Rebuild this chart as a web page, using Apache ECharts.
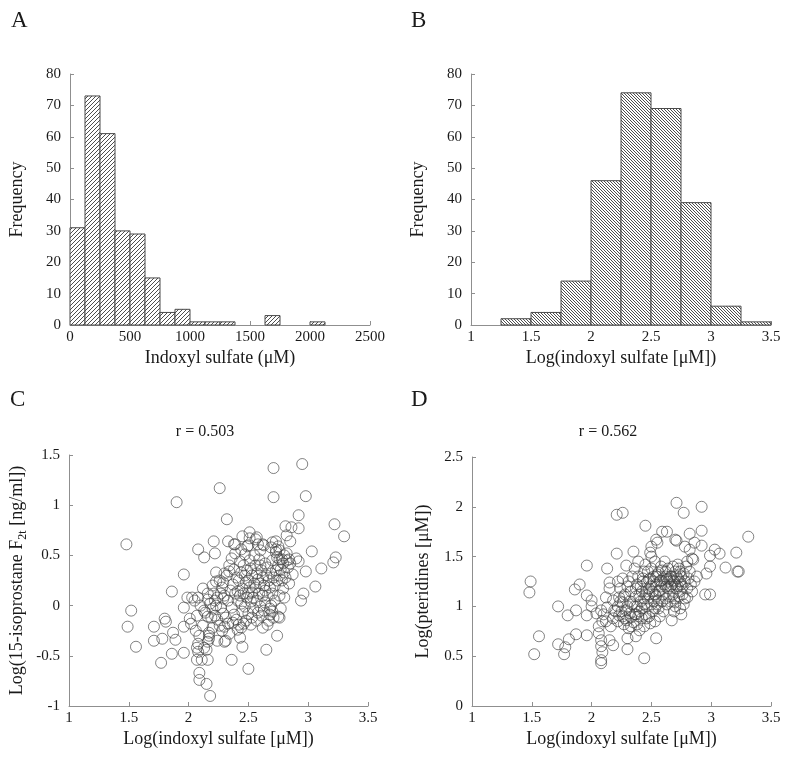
<!DOCTYPE html>
<html>
<head>
<meta charset="utf-8">
<script src="https://cdn.jsdelivr.net/npm/echarts@6/dist/echarts.min.js"></script>
<style>html,body{margin:0;padding:0;background:#fff}#main{width:787px;height:762px}</style>
</head>
<body>
<div id="main"></div>
<script>
// ---- Data ----
// Panel A: histogram of indoxyl sulfate (µM), bin width 125
var histABinStarts = [0,125,250,375,500,625,750,875,1000,1125,1250,1375,1500,1625,1750,1875,2000];
var histACounts    = [31,73,61,30,29,15,4,5,1,1,1,0,0,3,0,0,1];
var histABinWidth = 125;
// Panel B: histogram of log(indoxyl sulfate), bin width 0.25
var histBBinStarts = [1.25,1.5,1.75,2,2.25,2.5,2.75,3,3.25];
var histBCounts    = [2,4,14,46,74,69,39,6,1];
var histBBinWidth = 0.25;

var xTicksA = [0,500,1000,1500,2000,2500];
var xTicksLog = [1,1.5,2,2.5,3,3.5];

var titleC = 'r = 0.503';
var titleD = 'r = 0.562';

// Panel C: log(indoxyl sulfate) vs log(15-isoprostane F2t)
var scatterC = [
[2.95,1.41],[2.71,1.37],[2.26,1.17],[2.71,1.08],[2.98,1.09],[1.90,1.03],[2.32,0.86],[2.92,0.90],[3.22,0.81],[2.81,0.79],
[2.86,0.78],[2.92,0.77],[3.30,0.69],[1.48,0.61],[2.45,0.69],[2.51,0.73],[2.57,0.68],[2.82,0.70],[2.73,0.64],[2.85,0.64],
[2.21,0.64],[2.33,0.64],[2.39,0.61],[2.49,0.59],[2.58,0.61],[2.63,0.60],[2.08,0.56],[2.13,0.48],[2.22,0.52],[3.03,0.54],
[3.23,0.48],[3.21,0.43],[3.11,0.37],[2.98,0.34],[3.06,0.19],[2.96,0.12],[2.94,0.05],[1.96,0.31],[1.86,0.14],[2.12,0.17],
[2.16,0.12],[1.99,0.08],[2.03,0.08],[2.08,0.08],[1.96,-0.02],[2.01,-0.13],[1.52,-0.05],[1.49,-0.21],[1.56,-0.41],[1.71,-0.21],
[1.71,-0.35],[1.80,-0.13],[1.81,-0.16],[1.78,-0.33],[1.87,-0.27],[1.89,-0.34],[1.86,-0.48],[1.77,-0.57],[1.96,-0.21],[1.96,-0.47],
[2.07,-0.54],[2.11,-0.54],[2.09,-0.67],[2.09,-0.74],[2.15,-0.78],[2.18,-0.90],[2.15,-0.44],[2.16,-0.54],[2.17,-0.27],[2.17,-0.30],
[2.17,-0.33],[2.16,-0.36],[2.24,-0.35],[2.31,-0.35],[2.36,-0.54],[2.45,-0.41],[2.43,-0.32],[2.50,-0.63],[2.65,-0.44],[2.74,-0.30],
[2.76,-0.12],[2.77,-0.03],
[2.80,0.50],[2.76,0.46],[2.82,0.45],[2.84,0.46],[2.90,0.47],[2.92,0.44],[2.87,0.31],[2.79,0.17],[2.69,0.00],[2.68,-0.09],
[2.75,-0.11],[2.66,-0.19],[2.62,-0.22],[2.75,0.59],[2.76,0.55],[2.73,0.56],[2.38,0.61],[2.50,0.60],[2.56,0.66],[2.62,0.61],
[2.70,0.63],[2.51,0.67],[2.60,0.40],
[2.23,0.33],[2.23,0.24],[2.29,0.23],[2.30,0.32],[2.34,0.34],[2.21,0.12],[2.27,0.12],[2.16,0.06],[2.22,0.05],[2.29,0.07],
[2.07,-0.10],[2.13,-0.05],[2.16,-0.11],[2.19,-0.12],[2.07,-0.42],[2.13,-0.42],[2.08,-0.46],[2.30,-0.36],
[2.26,0.25],[2.28,0.18],[2.30,0.10],[2.27,-0.02],[2.29,-0.08],[2.31,-0.12],[2.33,-0.18],[2.26,-0.20],[2.30,-0.21],[2.34,0.40],
[2.32,0.30],[2.33,0.05],[2.35,0.15],[2.28,-0.25],[2.34,-0.28],
[2.36,0.47],[2.38,0.36],[2.40,0.28],[2.37,0.21],[2.39,0.12],[2.41,0.05],[2.36,-0.02],[2.38,-0.09],[2.40,-0.14],[2.42,-0.19],
[2.44,-0.22],[2.43,0.44],[2.44,0.33],[2.42,0.25],[2.45,0.17],[2.43,0.10],[2.41,0.14],[2.44,0.02],[2.45,-0.06],[2.37,-0.17],
[2.39,0.52],[2.44,0.56],[2.46,0.40],[2.41,-0.24],
[2.47,0.30],[2.48,0.23],[2.46,0.12],[2.49,0.08],[2.47,-0.01],[2.50,-0.08],[2.48,-0.15],[2.46,-0.18],[2.51,0.45],[2.52,0.37],
[2.53,0.30],[2.50,0.25],[2.51,0.18],[2.53,0.13],[2.52,0.04],[2.54,-0.03],[2.53,-0.12],[2.55,0.50],[2.55,0.22],[2.49,0.35],
[2.47,0.51],[2.54,0.08],[2.50,0.12],[2.52,-0.19],
[2.56,0.40],[2.57,0.32],[2.58,0.26],[2.56,0.18],[2.59,0.12],[2.57,0.05],[2.60,-0.01],[2.58,-0.07],[2.61,0.35],[2.62,0.28],
[2.63,0.20],[2.60,0.22],[2.62,0.10],[2.64,0.03],[2.63,-0.05],[2.61,-0.10],[2.64,0.42],[2.65,0.30],[2.59,0.46],[2.64,0.15],
[2.57,-0.15],[2.60,0.55],
[2.66,0.38],[2.67,0.25],[2.68,0.18],[2.66,0.10],[2.69,0.32],[2.70,0.45],[2.71,0.28],[2.72,0.20],[2.70,0.12],[2.73,0.35],
[2.74,0.25],[2.72,0.05],[2.68,-0.03],[2.71,-0.12],[2.67,-0.15],[2.74,0.48],[2.73,0.53],[2.69,0.58],[2.75,0.40],[2.70,-0.06],
[2.76,0.30],[2.78,0.25],[2.77,0.36],[2.79,0.42],[2.80,0.33],[2.81,0.28],[2.83,0.38],[2.85,0.42],[2.82,0.52],[2.78,0.46],
[2.84,0.22],[2.76,0.10],[2.80,0.08],
[2.05,0.05],[2.10,0.00],[2.14,-0.07],[2.18,0.02],[2.20,-0.03],[2.22,-0.10],[2.24,-0.14],[2.20,0.20],[2.23,0.00],[2.06,-0.25],
[2.09,-0.30],[2.12,-0.20],[2.08,-0.38],[2.20,-0.22],[2.24,0.08],[2.02,-0.18]
];

// Panel D: log(indoxyl sulfate) vs log(pteridines)
var scatterD = [
[2.71,2.04],[2.92,2.00],[2.21,1.92],[2.26,1.94],[2.77,1.94],[2.45,1.81],[2.59,1.75],[2.63,1.75],[2.92,1.76],[2.82,1.73],
[3.31,1.70],[2.54,1.67],[2.55,1.64],[2.50,1.60],[2.49,1.54],[2.70,1.67],[2.71,1.66],[2.78,1.60],[2.82,1.57],[2.86,1.64],
[2.92,1.61],[3.03,1.57],[3.07,1.53],[2.99,1.51],[2.99,1.40],[2.96,1.33],[3.12,1.39],[3.21,1.54],[3.22,1.35],[3.23,1.35],
[2.95,1.12],[2.99,1.12],[2.84,1.48],[2.85,1.47],[2.21,1.53],[2.35,1.55],[2.39,1.45],[1.96,1.41],[2.13,1.38],[2.29,1.41],
[1.49,1.25],[1.48,1.14],[1.86,1.17],[1.90,1.22],[2.15,1.24],[2.22,1.25],[2.15,1.18],[1.72,1.00],[1.87,0.96],[1.80,0.91],
[1.96,1.11],[2.00,1.06],[2.00,1.00],[1.96,0.91],[2.04,0.93],[2.08,0.96],[2.13,0.99],[2.12,1.09],[2.18,1.06],[2.23,1.09],
[2.26,1.04],[1.56,0.70],[1.52,0.52],[1.72,0.62],[1.78,0.59],[1.77,0.52],[1.81,0.67],[1.87,0.72],[1.96,0.71],[2.06,0.73],
[2.08,0.66],[2.08,0.60],[2.09,0.54],[2.08,0.46],[2.08,0.43],[2.15,0.66],[2.18,0.61],[2.30,0.57],[2.30,0.68],[2.37,0.70],
[2.44,0.48],[2.54,0.68],[2.53,0.85],[2.67,0.86],[2.75,0.92],[2.06,0.80],[2.09,0.85],[2.19,0.96],[2.23,0.91],[2.29,0.86],
[2.33,0.89],[2.37,0.92],[2.78,1.08],[2.80,1.09],[2.70,1.04],[2.74,0.98],[2.69,0.95],
[2.22,1.00],[2.25,0.95],[2.28,1.12],[2.30,1.20],[2.32,1.05],[2.27,0.82],[2.31,0.78],[2.34,1.30],[2.33,1.15],[2.26,1.28],
[2.24,1.18],[2.29,0.96],[2.35,0.84],[2.32,0.93],
[2.36,1.00],[2.37,1.10],[2.38,1.22],[2.39,1.30],[2.40,0.95],[2.41,1.05],[2.42,1.15],[2.43,1.25],[2.44,1.35],[2.36,1.38],
[2.38,0.82],[2.40,0.76],[2.42,0.88],[2.44,1.02],[2.45,1.12],[2.43,1.28],[2.41,1.20],[2.39,0.90],[2.45,1.42],[2.37,1.18],
[2.44,0.80],[2.45,0.92],
[2.46,1.00],[2.47,1.08],[2.48,1.18],[2.49,1.28],[2.50,1.38],[2.51,0.95],[2.52,1.05],[2.53,1.12],[2.54,1.22],[2.55,1.32],
[2.46,1.24],[2.48,0.90],[2.50,1.02],[2.52,1.30],[2.53,0.98],[2.54,1.10],[2.47,1.35],[2.49,0.83],[2.51,1.15],[2.55,1.02],
[2.50,1.50],[2.53,1.45],[2.48,1.27],[2.46,0.88],
[2.56,1.06],[2.57,1.16],[2.58,1.26],[2.59,1.36],[2.60,1.12],[2.61,1.22],[2.62,1.30],[2.63,1.02],[2.64,1.18],[2.65,1.28],
[2.56,0.98],[2.58,1.40],[2.60,0.95],[2.62,1.08],[2.64,1.38],[2.57,1.25],[2.61,1.45],[2.63,1.27],[2.59,1.05],[2.65,1.10],
[2.62,1.20],[2.56,1.34],
[2.66,1.20],[2.67,1.30],[2.68,1.12],[2.69,1.25],[2.70,1.35],[2.71,1.18],[2.72,1.28],[2.73,1.10],[2.74,1.35],[2.75,1.22],
[2.66,1.05],[2.68,1.40],[2.70,1.00],[2.72,1.42],[2.74,1.15],[2.67,1.22],[2.71,1.30],[2.73,1.38],[2.69,1.08],[2.75,1.30],
[2.76,1.20],[2.77,1.33],[2.78,1.25],[2.79,1.40],[2.80,1.18],[2.81,1.28],[2.82,1.35],[2.83,1.22],[2.84,1.15],[2.86,1.25],
[2.88,1.30],[2.77,1.02],[2.80,1.45],[2.76,1.12],
[2.38,1.00],[2.40,1.12],[2.42,0.98],[2.46,1.15],[2.50,1.20],[2.52,1.25],[2.54,1.30],[2.58,1.20],[2.60,1.28],[2.62,1.35],
[2.64,1.25],[2.66,1.30],[2.68,1.26],[2.70,1.22],[2.72,1.20],[2.74,1.25],[2.44,1.08],[2.48,1.12],[2.56,1.15],[2.36,0.92],
[2.34,1.02],[2.30,1.00],[2.28,0.88],[2.26,0.90],[2.22,0.85],[2.20,0.95],[2.18,0.88],[2.16,0.80],[2.12,0.85],[2.10,0.92],
[2.24,1.05],[2.27,1.10],[2.31,1.25],[2.33,0.80],[2.57,0.90]
];

// ---- Rendering ----
var FONT = 'Liberation Serif';
var AXIS_COLOR = '#8f8f8f';
var TEXT_COLOR = '#1a1a1a';

function makeHatch(size, forward) {
  var c = document.createElement('canvas');
  c.width = size; c.height = size;
  var g = c.getContext('2d');
  g.fillStyle = '#ffffff'; g.fillRect(0, 0, size, size);
  g.strokeStyle = '#3a3a3a'; g.lineWidth = 0.9;
  g.beginPath();
  if (forward) {
    g.moveTo(-1, size + 1); g.lineTo(size + 1, -1);
    g.moveTo(-1, 1); g.lineTo(1, -1);
    g.moveTo(size - 1, size + 1); g.lineTo(size + 1, size - 1);
  } else {
    g.moveTo(-1, -1); g.lineTo(size + 1, size + 1);
    g.moveTo(size - 1, -1); g.lineTo(size + 1, 1);
    g.moveTo(-1, size - 1); g.lineTo(1, size + 1);
  }
  g.stroke();
  return c;
}
var hatchA = makeHatch(4, true);
var hatchB = makeHatch(3, false);

function histData(starts, counts, width) {
  return starts.map(function (s, i) { return [s, s + width, counts[i]]; })
               .filter(function (d) { return d[2] > 0; });
}
function histRender(pattern) {
  return function (params, api) {
    var p0 = api.coord([api.value(0), api.value(2)]);
    var p1 = api.coord([api.value(1), 0]);
    return {
      type: 'rect',
      shape: { x: p0[0], y: p0[1], width: p1[0] - p0[0], height: p1[1] - p0[1] },
      style: { fill: { image: pattern, repeat: 'repeat' }, stroke: '#4a4a4a', lineWidth: 1 }
    };
  };
}
function plainNum(v) { return String(v); }

function xAxisCfg(idx, min, max, interval, name) {
  return {
    gridIndex: idx, type: 'value', min: min, max: max, interval: interval,
    name: name, nameLocation: 'middle', nameGap: 24,
    nameTextStyle: { fontFamily: FONT, fontSize: 18, color: TEXT_COLOR },
    axisLine: { show: true, onZero: false, lineStyle: { color: AXIS_COLOR, width: 1 } },
    axisTick: { show: true, inside: true, length: 4, lineStyle: { color: AXIS_COLOR } },
    axisLabel: { fontFamily: FONT, fontSize: 15, color: TEXT_COLOR, margin: 5, formatter: plainNum },
    splitLine: { show: false }
  };
}
function yAxisCfg(idx, min, max, interval, name, gap, rich) {
  var cfg = {
    gridIndex: idx, type: 'value', min: min, max: max, interval: interval,
    name: name, nameLocation: 'middle', nameGap: gap, nameRotate: 90,
    nameTextStyle: { fontFamily: FONT, fontSize: 18, color: TEXT_COLOR },
    axisLine: { show: true, onZero: false, lineStyle: { color: AXIS_COLOR, width: 1 } },
    axisTick: { show: true, inside: true, length: 4, lineStyle: { color: AXIS_COLOR } },
    axisLabel: { fontFamily: FONT, fontSize: 15, color: TEXT_COLOR, margin: 9, formatter: plainNum },
    splitLine: { show: false }
  };
  if (rich) cfg.nameTextStyle.rich = rich;
  return cfg;
}

var scatterStyle = {
  type: 'scatter', symbol: 'circle', symbolSize: 11, silent: true,
  itemStyle: { color: 'rgba(0,0,0,0)', borderColor: '#3c3c3c', borderWidth: 0.8 }
};

var chart = echarts.init(document.getElementById('main'), null, { renderer: 'canvas' });
chart.setOption({
  animation: false,
  backgroundColor: '#ffffff',
  textStyle: { fontFamily: FONT },
  grid: [
    { left: 70, top: 74, width: 300, height: 251 },
    { left: 471, top: 74, width: 300, height: 251 },
    { left: 69, top: 455, width: 299, height: 251 },
    { left: 472, top: 457, width: 299, height: 249 }
  ],
  xAxis: [
    xAxisCfg(0, xTicksA[0], xTicksA[xTicksA.length - 1], 500, 'Indoxyl sulfate (\u03bcM)'),
    xAxisCfg(1, xTicksLog[0], xTicksLog[xTicksLog.length - 1], 0.5, 'Log(indoxyl sulfate [\u03bcM])'),
    xAxisCfg(2, xTicksLog[0], xTicksLog[xTicksLog.length - 1], 0.5, 'Log(indoxyl sulfate [\u03bcM])'),
    xAxisCfg(3, xTicksLog[0], xTicksLog[xTicksLog.length - 1], 0.5, 'Log(indoxyl sulfate [\u03bcM])')
  ],
  yAxis: [
    yAxisCfg(0, 0, 80, 10, 'Frequency', 44),
    yAxisCfg(1, 0, 80, 10, 'Frequency', 44),
    yAxisCfg(2, -1, 1.5, 0.5, '{a|Log(15-isoprostane F}{s|2t}{a| [ng/ml])}', 40, {
      a: { fontFamily: FONT, fontSize: 18, color: TEXT_COLOR, lineHeight: 24 },
      s: { fontFamily: FONT, fontSize: 12, color: TEXT_COLOR, verticalAlign: 'bottom' }
    }),
    yAxisCfg(3, 0, 2.5, 0.5, 'Log(pteridines [\u03bcM])', 40)
  ],
  graphic: [
    { type: 'text', left: 11, top: 9, style: { text: 'A', font: '23px "Liberation Serif"', fill: TEXT_COLOR } },
    { type: 'text', left: 411, top: 9, style: { text: 'B', font: '23px "Liberation Serif"', fill: TEXT_COLOR } },
    { type: 'text', left: 10, top: 388, style: { text: 'C', font: '23px "Liberation Serif"', fill: TEXT_COLOR } },
    { type: 'text', left: 411, top: 388, style: { text: 'D', font: '23px "Liberation Serif"', fill: TEXT_COLOR } },
    { type: 'text', x: 205, y: 432, style: { text: titleC, font: '16px "Liberation Serif"', fill: TEXT_COLOR, align: 'center', verticalAlign: 'middle' } },
    { type: 'text', x: 608, y: 432, style: { text: titleD, font: '16px "Liberation Serif"', fill: TEXT_COLOR, align: 'center', verticalAlign: 'middle' } }
  ],
  series: [
    { type: 'custom', xAxisIndex: 0, yAxisIndex: 0, renderItem: histRender(hatchA),
      encode: { x: [0, 1], y: 2 }, data: histData(histABinStarts, histACounts, histABinWidth), silent: true },
    { type: 'custom', xAxisIndex: 1, yAxisIndex: 1, renderItem: histRender(hatchB),
      encode: { x: [0, 1], y: 2 }, data: histData(histBBinStarts, histBCounts, histBBinWidth), silent: true },
    Object.assign({ xAxisIndex: 2, yAxisIndex: 2, data: scatterC }, scatterStyle),
    Object.assign({ xAxisIndex: 3, yAxisIndex: 3, data: scatterD }, scatterStyle)
  ]
});
</script>
</body>
</html>
